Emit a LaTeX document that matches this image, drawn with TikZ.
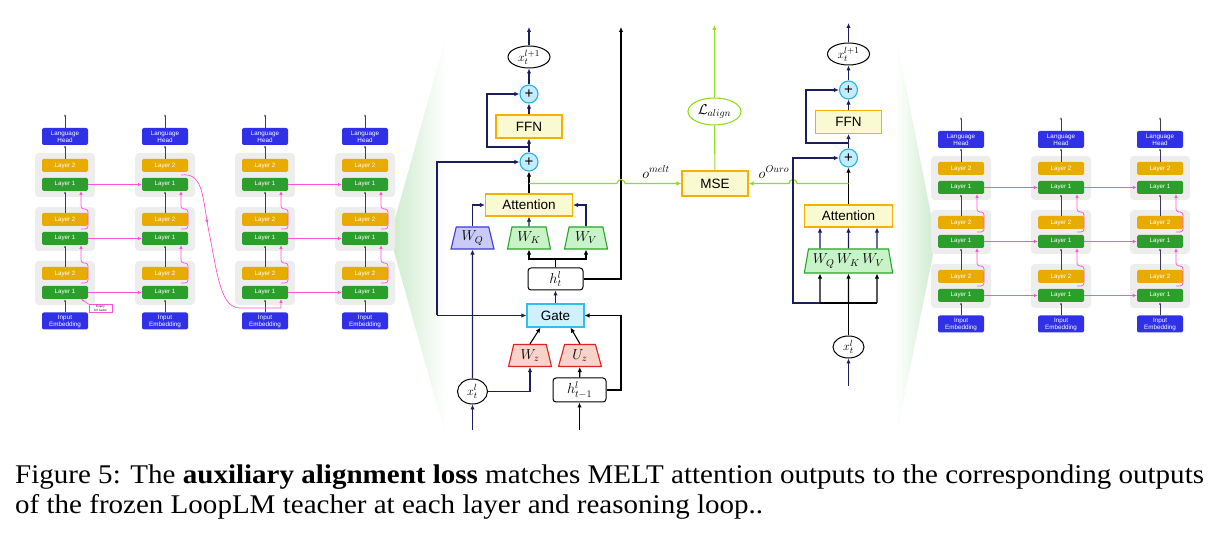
\documentclass[tikz,border=0pt]{standalone}
\usepackage{fontspec}
\setmainfont{Liberation Serif}
\setsansfont{Liberation Sans}
\usetikzlibrary{arrows.meta,positioning,shapes.geometric,calc,decorations.markings}
\definecolor{headblue}{HTML}{3030E6}
\definecolor{layergold}{HTML}{E8AC00}
\definecolor{layergreen}{HTML}{2C9E2C}
\definecolor{groupgray}{HTML}{EDEDED}
\definecolor{kvpink}{HTML}{FF50DA}
\definecolor{stackink}{HTML}{3A3A5E}
\definecolor{navy}{HTML}{1A1F5C}
\definecolor{boxorange}{HTML}{F5B000}
\definecolor{boxyellow}{HTML}{FAFAD2}
\definecolor{plusblue}{HTML}{25B0EE}
\definecolor{pluscyan}{HTML}{C2ECFF}
\definecolor{gateblue}{HTML}{30BEF0}
\definecolor{gatecyan}{HTML}{CFF1FF}
\definecolor{qblue}{HTML}{3A3AE0}
\definecolor{qfill}{HTML}{CACAF7}
\definecolor{kgreen}{HTML}{26A626}
\definecolor{kfill}{HTML}{C8F2C8}
\definecolor{zred}{HTML}{DD2222}
\definecolor{zfill}{HTML}{F9D2CA}
\definecolor{lime}{HTML}{92DC1E}
\definecolor{wedgegreen}{HTML}{CCEACC}
\tikzset{
  stackhead/.style={fill=headblue,rounded corners=2pt,minimum width=46pt,minimum height=17pt,
                    inner sep=0pt,text=white,align=center,font=\sffamily\fontsize{6.3}{7}\selectfont},
  layergroup/.style={fill=groupgray,rounded corners=4pt,minimum width=60pt,minimum height=44pt,inner sep=0pt},
  layertop/.style={fill=layergold,rounded corners=1.5pt,minimum width=46pt,minimum height=13pt,
                   inner sep=0pt,text=white,font=\sffamily\fontsize{6.2}{7}\selectfont},
  layerbot/.style={layertop,fill=layergreen},
  kvnote/.style={draw=kvpink,fill=white,line width=0.6pt,minimum width=23pt,minimum height=8pt,
                 inner sep=0pt,align=center,font=\sffamily\fontsize{3}{3.3}\selectfont},
  stackarr/.style={-{Latex[length=2.5pt,width=2pt]},draw=stackink,line width=0.8pt},
  kvarr/.style={-{Latex[length=4pt,width=3.5pt]},draw=kvpink,line width=0.7pt},
  kvmid/.style={kvarr,postaction={decorate},decoration={markings,
                mark=at position 0.3 with {\arrow{Latex[length=4pt,width=3.5pt]}}}},
  blockbox/.style={draw=boxorange,fill=boxyellow,line width=1.1pt,minimum width=66pt,minimum height=23pt,
                   inner sep=0pt,font=\sffamily\fontsize{13.5}{15}\selectfont},
  plusnode/.style={circle,draw=plusblue,fill=pluscyan,line width=1.1pt,minimum size=18pt,inner sep=0pt,
                   font=\sffamily\fontsize{15}{15}\selectfont},
  ovalnode/.style={ellipse,draw=black,fill=white,line width=1pt,inner sep=0pt,font=\fontsize{12.5}{14}\selectfont},
  statebox/.style={draw=black,fill=white,rounded corners=3pt,line width=1pt,inner sep=0pt,
                   font=\fontsize{14}{16}\selectfont},
  gatebox/.style={draw=gateblue,fill=gatecyan,line width=1.1pt,minimum width=57pt,minimum height=23pt,
                  inner sep=0pt,font=\sffamily\fontsize{13.5}{15}\selectfont},
  wtrap/.style={trapezium,trapezium stretches=true,trapezium left angle=76,trapezium right angle=76,
                line width=1.1pt,minimum width=43pt,minimum height=22pt,inner sep=0pt,font=\fontsize{14}{16}\selectfont},
  wquery/.style={wtrap,draw=qblue,fill=qfill},
  wkey/.style={wtrap,draw=kgreen,fill=kfill},
  wgate/.style={wtrap,draw=zred,fill=zfill},
  lossoval/.style={ellipse,draw=lime,fill=white,line width=1.1pt,minimum width=53pt,minimum height=27pt,
                   inner sep=0pt,font=\fontsize{14}{16}\selectfont},
  narr/.style={-{Latex[length=5pt,width=4.5pt]},draw=navy,line width=1.1pt},
  barr/.style={-{Latex[length=5pt,width=4.5pt]},draw=black,line width=1.1pt},
  bline/.style={draw=black,line width=1.1pt},
  nline/.style={draw=navy,line width=1.1pt},
  garr/.style={-{Latex[length=5pt,width=4.5pt]},draw=lime,line width=1.1pt},
  gline/.style={draw=lime,line width=1.1pt}
}

\begin{document}
\begin{tikzpicture}[x=1pt,y=-1pt]
  \useasboundingbox (0,0) rectangle (1219,537);

  % zoom wedges
  \shade[left color=wedgegreen,right color=white] (390,237) -- (446,36) -- (446,438) -- cycle;
  \shade[left color=white,right color=wedgegreen] (896,36) -- (936,240) -- (896,438) -- cycle;

  % looped stacks
  \foreach \col/\x/\dy in {a/65/0,b/165/0,c/265/0,d/365/0,e/961/3,f/1061/3,g/1160/3}{
    \node[stackhead] (\col-head) at (\x,{136.5+\dy}) {Language\\Head};
    \foreach \g/\gy in {1/175,2/229,3/283}{
      \node[layergroup] (\col-g\g) at (\x,{\gy+\dy}) {};
      \node[layertop] (\col-b\g) at (\x,{\gy+\dy-9.5}) {Layer 2};
      \node[layerbot] (\col-a\g) at (\x,{\gy+\dy+9.5}) {Layer 1};
      \coordinate (\col-kv\g) at ({\x+16},{\gy+\dy+16});
    }
    \node[stackhead] (\col-emb) at (\x,{321+\dy}) {Input\\Embedding};
    \coordinate (\col-out) at (\x,{114+\dy});
    \draw[stackarr] (\col-head) -- (\col-out);
    \draw[stackarr] (\col-b1) -- (\col-head);
    \draw[stackarr] (\col-b2) -- (\col-a1);
    \draw[stackarr] (\col-b3) -- (\col-a2);
    \draw[stackarr] (\col-emb) -- (\col-a3);
    % kv cache hand-over
    \draw[kvarr,rounded corners=3pt] ({\x+16},{283+\dy}) -| ({\x+23},{263+\dy}) -| (\col-kv2);
    \draw[kvarr,rounded corners=3pt] ({\x+16},{229+\dy}) -| ({\x+23},{209+\dy}) -| (\col-kv1);
  }
  \foreach \p/\q in {a/b,c/d,e/f,f/g}
    \foreach \g in {1,2,3}
      \draw[kvarr] (\p-a\g) -- (\q-a\g);
  \draw[kvmid] (181,175) .. controls (205,172) and (202,200) .. (210,237)
    .. controls (218,280) and (222,308) .. (240,308) -- (281,308) -- (c-kv3);
  \node[kvnote] (kvempty) at (100.5,308.5) {Empty\\KV cache};
  \draw[kvarr,-{Latex[length=2.5pt,width=2pt]}] (kvempty.north west) -- (a-kv3);

  % MELT block
  \node[ovalnode,minimum width=42pt,minimum height=22pt] (melt-out) at (529,57) {$x_t^{l+1}$};
  \node[plusnode] (melt-p2) at (529,94) {+};
  \node[blockbox] (melt-ffn) at (529,126.5) {FFN};
  \node[plusnode] (melt-p1) at (529,162) {+};
  \node[blockbox,minimum width=87pt,minimum height=22pt] (melt-att) at (529,205) {Attention};
  \node[wquery] (melt-wq) at (472.5,238) {$W_Q$};
  \node[wkey] (melt-wk) at (529,238) {$W_K$};
  \node[wkey] (melt-wv) at (586,238) {$W_V$};
  \node[statebox,minimum width=55pt,minimum height=22pt] (melt-h) at (555.5,279) {$h_t^l$};
  \node[gatebox] (melt-gate) at (555.5,315.5) {Gate};
  \node[wgate] (melt-wz) at (530,355.5) {$W_z$};
  \node[wgate] (melt-uz) at (580,355.5) {$U_z$};
  \node[ovalnode,minimum width=30pt,minimum height=25pt] (melt-x) at (472.5,391.5) {$x_t^l$};
  \node[statebox,minimum width=53pt,minimum height=24pt] (melt-hp) at (579.5,390) {$h_{t-1}^l$};
  \coordinate (melt-top) at (529,27);
  \coordinate (melt-skip) at (621,27);
  \coordinate (melt-in) at (472.5,430);
  \coordinate (melt-hin) at (579.5,430);
  \coordinate (melt-left) at (437,315.5);
  \coordinate (melt-hs) at (555.5,259);

  \draw[narr] (melt-out) -- (melt-top);
  \draw[narr] (melt-p2) -- (melt-out);
  \draw[narr] (melt-ffn) -- (melt-p2);
  \draw[narr] (melt-p1) -- (melt-ffn);
  \draw[narr] (529,147) -- (487,147) |- (melt-p2);
  \draw[barr] (melt-att) -- (melt-p1);
  \draw[narr] (melt-wq) |- (melt-att);
  \draw[narr] (melt-wk) -- (melt-att);
  \draw[narr] (melt-wv) |- (melt-att);
  \draw[bline] (melt-h) -- (melt-hs);
  \draw[barr] (melt-hs) -| (melt-wk);
  \draw[barr] (melt-hs) -| (melt-wv);
  \draw[barr] (melt-h.east) -| (melt-skip);
  \draw[narr] (melt-gate) -- (melt-h);
  \draw[narr] (melt-in) -- (melt-x);
  \draw[narr] (melt-x) -- (melt-wq);
  \draw[narr] (melt-x) -| (melt-wz);
  \draw[narr] (melt-left) -- (melt-gate);
  \draw[narr] (melt-left) |- (melt-p1);
  \draw[barr] (melt-wz.north) -- ($(melt-gate.south)+(-15,0)$);
  \draw[barr] (melt-uz.north) -- ($(melt-gate.south)+(15,0)$);
  \draw[barr] (melt-hin) -- (melt-hp);
  \draw[barr] (melt-hp) -- (melt-uz);
  \draw[barr] (melt-hp.east) -| (melt-skip |- melt-gate) -- (melt-gate);

  % alignment loss
  \node[blockbox,minimum height=25pt] (mse) at (715,183.5) {MSE};
  \node[lossoval] (loss) at (714.5,111.5) {$\mathcal{L}_{align}$};
  \coordinate (loss-out) at (714.5,25);
  \draw[gline] (mse) -- (loss);
  \draw[garr] (loss) -- (loss-out);
  \draw[garr] (melt-att |- mse) -- (617,183.5) arc[start angle=180,end angle=0,radius=4pt] -- (mse);
  \node[font=\fontsize{14}{16}\selectfont] (lbl-melt) at (656,172) {$o^{melt}$};
  \node[font=\fontsize{14}{16}\selectfont] (lbl-ouro) at (774,172) {$o^{Ouro}$};

  % Ouro teacher block
  \node[ovalnode,minimum width=42pt,minimum height=22pt] (ouro-out) at (848.5,54) {$x_t^{l+1}$};
  \node[plusnode] (ouro-p2) at (848.5,90) {+};
  \node[blockbox] (ouro-ffn) at (848.5,122) {FFN};
  \node[plusnode] (ouro-p1) at (848.5,158) {+};
  \node[blockbox,minimum width=88pt,minimum height=22pt] (ouro-att) at (848.5,216) {Attention};
  \node[wkey,minimum width=89pt,minimum height=24pt,trapezium left angle=75,trapezium right angle=75]
    (ouro-w) at (848.5,261) {$W_Q\,W_K\,W_V$};
  \node[ovalnode,minimum width=31pt,minimum height=22pt] (ouro-x) at (848.5,347) {$x_t^l$};
  \coordinate (ouro-top) at (848.5,23);
  \coordinate (ouro-in) at (848.5,386);
  \coordinate (ouro-j) at (848.5,303);
  \coordinate (ouro-jl) at (820,303);

  \draw[narr] (ouro-out) -- (ouro-top);
  \draw[narr] (ouro-p2) -- (ouro-out);
  \draw[narr] (ouro-ffn) -- (ouro-p2);
  \draw[narr] (ouro-p1) -- (ouro-ffn);
  \draw[narr] (848.5,143) -- (806,143) |- (ouro-p2);
  \draw[barr] (ouro-att) -- (ouro-p1);
  \draw[garr] (ouro-att |- mse) -- (797,183.5) arc[start angle=0,end angle=180,radius=4pt] -- (mse);
  \draw[narr] (ouro-in) -- (ouro-x);
  \draw[bline] (ouro-x) -- (ouro-j);
  \draw[bline] (ouro-jl) -- (877,303);
  \foreach \dx in {-28.5,0,28.5}{
    \draw[barr] ($(ouro-j)+(\dx,0)$) -- ($(ouro-w.south)+(\dx,0)$);
    \draw[narr] ($(ouro-w.north)+(\dx,0)$) -- ($(ouro-att.south)+(\dx,0)$);
  }
  \draw[narr] (ouro-jl) -- (793,303) |- (ouro-p1);

  % caption
  \node[anchor=base west,inner sep=0pt,font=\fontsize{27}{30}\selectfont] (cap1) at (15,483)
    {\scalebox{1.075}[1]{Figure 5: The \textbf{auxiliary alignment loss} matches MELT attention outputs to the corresponding outputs}};
  \node[anchor=base west,inner sep=0pt,font=\fontsize{27}{30}\selectfont] (cap2) at (15,513)
    {\scalebox{1.075}[1]{of the frozen LoopLM teacher at each layer and reasoning loop..}};
\end{tikzpicture}
\end{document}
